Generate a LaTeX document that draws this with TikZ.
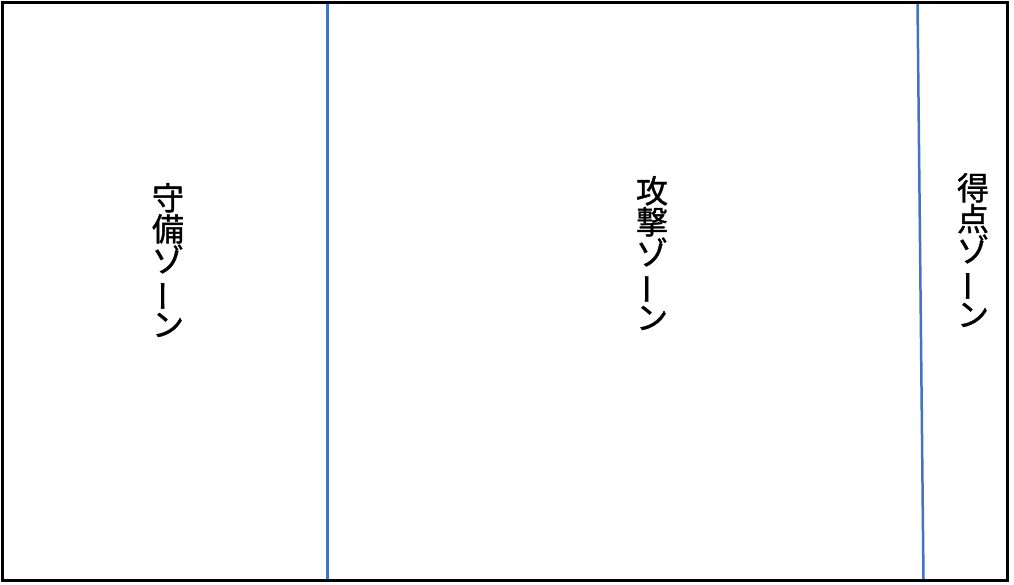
\documentclass[tikz,border=0pt]{standalone}
\usepackage{fontspec}
\usepackage{graphicx}
\newfontfamily\jpfont[FakeBold=1.2]{Noto Sans CJK JP}
\newcommand{\vbar}{\rotatebox[origin=c]{90}{ー}}
\begin{document}
\begin{tikzpicture}[x=1pt,y=-1pt,
  zone/.style={align=center,font=\jpfont\fontsize{32}{31}\selectfont,inner sep=0pt},
  divider/.style={draw={rgb,255:red,68;green,114;blue,196},line width=2.5pt}]
\useasboundingbox (0,0) rectangle (1014,584);
\coordinate (tl) at (2,2);
\coordinate (br) at (1007.5,580);
\coordinate (a1) at (327.5,2);
\coordinate (a2) at (327.5,580);
\coordinate (b1) at (917.5,2);
\coordinate (b2) at (923.5,580);
\draw[divider] (a1) -- (a2);
\draw[divider] (b1) -- (b2);
\draw[line width=3pt,black] (tl) rectangle (br);
\node[zone] (def) at (168,260) {守\\備\\ゾ\\\vbar\\ン};
\node[zone] (att) at (652,253) {攻\\撃\\ゾ\\\vbar\\ン};
\node[zone] (sco) at (973,250) {得\\点\\ゾ\\\vbar\\ン};
\end{tikzpicture}
\end{document}
